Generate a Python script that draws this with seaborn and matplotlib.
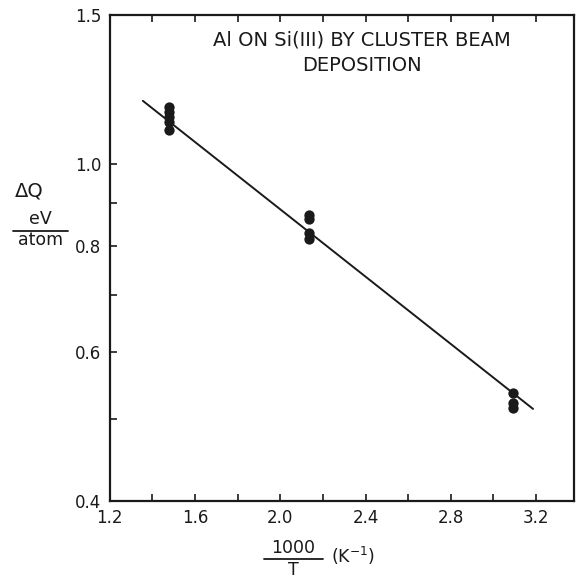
import matplotlib
matplotlib.use("Agg")
import matplotlib.pyplot as plt
from matplotlib.lines import Line2D
from matplotlib.ticker import FixedLocator, NullFormatter, FixedFormatter
import seaborn as sns
import pandas as pd

sns.set_theme(style="white")
plt.rcParams['font.family'] = ['DejaVu Sans']

# data
inv_T = [1.48, 1.48, 1.48, 1.48, 1.48,
         2.134, 2.134, 2.134, 2.134,
         3.092, 3.092, 3.092]
delta_q = [1.169, 1.154, 1.138, 1.122, 1.098,
           0.871, 0.862, 0.830, 0.816,
           0.537, 0.522, 0.515]
fit_x = [1.355, 3.186]
fit_y = [1.188, 0.514]

y_major = [0.4, 0.6, 0.8, 1.0, 1.5]
y_major_labels = ["0.4", "0.6", "0.8", "1.0", "1.5"]
y_minor = [0.5, 0.7, 0.9]
x_major = [1.2, 1.6, 2.0, 2.4, 2.8, 3.2]
x_major_labels = ["1.2", "1.6", "2.0", "2.4", "2.8", "3.2"]
x_minor = [1.4, 1.8, 2.2, 2.6, 3.0]

pts = pd.DataFrame({"x": inv_T, "y": delta_q})
fit = pd.DataFrame({"x": fit_x, "y": fit_y})

fig = plt.figure(figsize=(5.78, 5.80), dpi=100)
ax = fig.add_axes([0.190, 0.136, 0.803, 0.838])

ink = "#1a1a1a"
sns.lineplot(data=fit, x="x", y="y", ax=ax, color=ink, linewidth=1.4)
sns.scatterplot(data=pts, x="x", y="y", ax=ax, color=ink, s=55,
                edgecolor=ink, linewidth=0, zorder=3)

ax.set_yscale("log")
ax.set_xlim(1.2, 3.378)
ax.set_ylim(0.4, 1.5)

ax.yaxis.set_major_locator(FixedLocator(y_major))
ax.yaxis.set_major_formatter(FixedFormatter(y_major_labels))
ax.yaxis.set_minor_locator(FixedLocator(y_minor))
ax.yaxis.set_minor_formatter(NullFormatter())
ax.xaxis.set_major_locator(FixedLocator(x_major))
ax.xaxis.set_major_formatter(FixedFormatter(x_major_labels))
ax.xaxis.set_minor_locator(FixedLocator(x_minor))

ax.tick_params(axis="both", which="both", direction="in", length=5,
               width=1.2, color=ink, labelsize=12, labelcolor=ink, pad=6)
ax.tick_params(axis="x", which="both", top=True, bottom=True)
ax.tick_params(axis="y", which="both", left=True, right=False)

for s in ax.spines.values():
    s.set_color(ink)
    s.set_linewidth(1.6)

ax.set_xlabel("")
ax.set_ylabel("")

# title inside plot
ax.text(0.543, 0.949, "Al ON Si(III) BY CLUSTER BEAM", transform=ax.transAxes,
        ha="center", va="center", fontsize=14, color=ink)
ax.text(0.543, 0.897, "DEPOSITION", transform=ax.transAxes,
        ha="center", va="center", fontsize=14, color=ink)

W, H = 578.0, 580.0
def fx(px):
    return px / W
def fy(py):
    return 1 - py / H

# y-axis label
fig.text(fx(29), fy(191), "ΔQ", ha="center", va="center", fontsize=14, color=ink)
fig.text(fx(40), fy(219), "eV", ha="center", va="center", fontsize=12.5, color=ink)
fig.add_artist(Line2D([fx(13), fx(68)], [fy(231), fy(231)], color=ink, linewidth=1.3))
fig.text(fx(41), fy(240), "atom", ha="center", va="center", fontsize=12.5, color=ink)

# x-axis label
fig.text(fx(293), fy(548), "1000", ha="center", va="center", fontsize=12.5, color=ink)
fig.add_artist(Line2D([fx(264), fx(323)], [fy(559), fy(559)], color=ink, linewidth=1.3))
fig.text(fx(293), fy(570), "T", ha="center", va="center", fontsize=12.5, color=ink)
fig.text(fx(331), fy(556), "(K$^{-1}$)", ha="left", va="center", fontsize=12.5, color=ink)

fig.savefig("out.png", dpi=100, facecolor="white")
